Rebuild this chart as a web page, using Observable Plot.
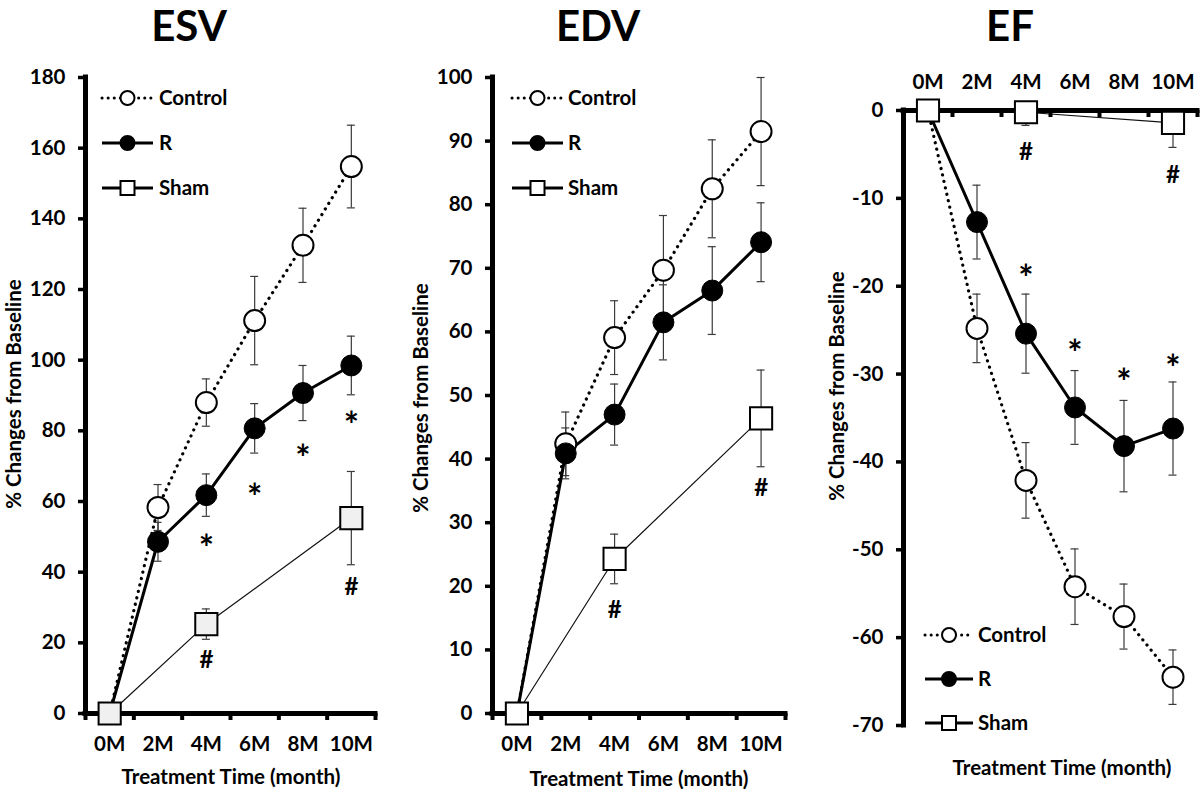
<!DOCTYPE html>
<html><head><meta charset="utf-8">
<script src="https://cdn.jsdelivr.net/npm/d3@7"></script>
<script src="https://cdn.jsdelivr.net/npm/@observablehq/plot@0.6"></script>
<style>
body{margin:0;background:#fff;}
#root{position:relative;width:1200px;height:795px;overflow:hidden;font-family:Lato,"Open Sans",sans-serif;font-weight:700;color:#000;}
.panel{position:absolute;top:0;width:400px;height:795px;}
.title{position:absolute;font-size:42px;font-weight:700;transform:translateX(-50%);top:0px;line-height:1.2;white-space:nowrap;}
.xlab{position:absolute;font-size:20.5px;font-weight:700;transform:translate(-50%,-50%);white-space:nowrap;}
.ylab{position:absolute;font-size:20.5px;font-weight:700;transform:translate(-50%,-50%) rotate(-90deg);white-space:nowrap;}
svg.legend{position:absolute;left:0;top:0;pointer-events:none;}
</style></head><body><div id="root"></div>
<script>
// ---------- data ----------
const months = [0, 2, 4, 6, 8, 10];
const monthLabels = ["0M", "2M", "4M", "6M", "8M", "10M"];
const shamMonths = [0, 4, 10];
const seriesNames = ["Control", "R", "Sham"];

const esvTicks = [0, 20, 40, 60, 80, 100, 120, 140, 160, 180];
const esvControl = [0, 58.3, 88.0, 111.2, 132.5, 154.8];
const esvControlErr = [0, 6.5, 6.7, 12.5, 10.5, 11.7];
const esvR = [0, 48.6, 61.8, 80.7, 90.7, 98.5];
const esvRErr = [0, 5.5, 6.0, 7.0, 7.8, 8.3];
const esvSham = [0, 25.3, 55.3];
const esvShamErr = [0, 4.3, 13.2];
const esvStarMonths = [4, 6, 8, 10];
const esvStarValues = [49.5, 64, 75, 84.3];
const esvHashMonths = [4, 10];
const esvHashValues = [15, 35.7];

const edvTicks = [0, 10, 20, 30, 40, 50, 60, 70, 80, 90, 100];
const edvControl = [0, 42.4, 59.1, 69.7, 82.5, 91.5];
const edvControlErr = [0, 5.0, 5.8, 8.6, 7.7, 8.5];
const edvR = [0, 40.9, 47.0, 61.5, 66.5, 74.1];
const edvRErr = [0, 4.0, 4.8, 5.9, 6.9, 6.2];
const edvSham = [0, 24.3, 46.4];
const edvShamErr = [0, 3.9, 7.6];
const edvStarMonths = [];
const edvStarValues = [];
const edvHashMonths = [4, 10];
const edvHashValues = [16.3, 35.4];

const efTicks = [0, -10, -20, -30, -40, -50, -60, -70];
const efControl = [0, -24.8, -42.1, -54.2, -57.6, -64.5];
const efControlErr = [0, 3.9, 4.3, 4.3, 3.7, 3.1];
const efR = [0, -12.7, -25.4, -33.8, -38.2, -36.2];
const efRErr = [0, 4.2, 4.5, 4.2, 5.2, 5.3];
const efSham = [0, -0.2, -1.4];
const efShamErr = [0, 1.5, 2.8];
const efStarMonths = [4, 6, 8, 10];
const efStarValues = [-18, -26.5, -29.8, -28.2];
const efHashMonths = [4, 10];
const efHashValues = [-4.8, -7.4];

// ---------- layout ----------
const FONT = "Lato, 'Open Sans', sans-serif";
const TICKFS = 20.5;
const panels = [
  {title: "ESV", left: 0, mL: 85, mR: 25, mT: 77, mB: 82, domain: [0, 180], ticks: esvTicks,
   control: esvControl, controlErr: esvControlErr, r: esvR, rErr: esvRErr, sham: esvSham, shamErr: esvShamErr,
   shamFill: "#f0f0f0", shamDown: false, xTop: false,
   starM: esvStarMonths, starV: esvStarValues, hashM: esvHashMonths, hashV: esvHashValues,
   titleX: 189, yLab: [13, 394], xLab: [231, 776],
   legend: {x0: 102, x1: 153, tx: 159, rows: [98, 143, 188]}},
  {title: "EDV", left: 400, mL: 92, mR: 15, mT: 77, mB: 82, domain: [0, 100], ticks: edvTicks,
   control: edvControl, controlErr: edvControlErr, r: edvR, rErr: edvRErr, sham: edvSham, shamErr: edvShamErr,
   shamFill: "#ffffff", shamDown: false, xTop: false,
   starM: edvStarMonths, starV: edvStarValues, hashM: edvHashMonths, hashV: edvHashValues,
   titleX: 598, yLab: [420, 398], xLab: [639, 778],
   legend: {x0: 512, x1: 563, tx: 568, rows: [98, 143, 188]}},
  {title: "EF", left: 800, mL: 103, mR: 3, mT: 110, mB: 70, domain: [-70, 0], ticks: efTicks,
   control: efControl, controlErr: efControlErr, r: efR, rErr: efRErr, sham: efSham, shamErr: efShamErr,
   shamFill: "#ffffff", shamDown: true, xTop: true,
   starM: efStarMonths, starV: efStarValues, hashM: efHashMonths, hashV: efHashValues,
   titleX: 1010, yLab: [836, 386], xLab: [1062, 767],
   legend: {x0: 925, x1: 973, tx: 978, rows: [635, 679, 723]}}
];

const root = document.getElementById("root");
const xDomain = [d3.min(months) - 1, d3.max(months) + 1];
const bandEdges = d3.range(xDomain[0], xDomain[1] + 1, 2);

function series(xs, vs, es, down) {
  return xs.map((m, i) => ({m, v: vs[i], lo: vs[i] - es[i], hi: down ? vs[i] : vs[i] + es[i], e: es[i]}));
}

for (const p of panels) {
  const ctrl = series(months, p.control, p.controlErr, false);
  const rr = series(months, p.r, p.rErr, false);
  const sh = series(shamMonths, p.sham, p.shamErr, p.shamDown);
  const errs = [...ctrl, ...rr, ...sh].filter(d => d.e > 0);
  const caps = errs.flatMap(d => d.hi === d.v ? [{m: d.m, y: d.lo}] : [{m: d.m, y: d.lo}, {m: d.m, y: d.hi}]);
  const stars = p.starM.map((m, i) => ({m, v: p.starV[i]}));
  const hashes = p.hashM.map((m, i) => ({m, v: p.hashV[i]}));
  const labels = months.map((m, i) => ({m, t: monthLabels[i]}));
  const yMin = p.domain[0], yMax = p.domain[1];

  const chart = Plot.plot({
    width: 400, height: 795,
    marginLeft: p.mL, marginRight: p.mR, marginTop: p.mT, marginBottom: p.mB,
    style: {fontFamily: FONT, fontWeight: 700, background: "transparent", overflow: "visible"},
    x: {domain: xDomain, axis: null},
    y: {domain: p.domain, axis: null},
    marks: [
      // y axis ticks & labels
      Plot.axisY({ticks: p.ticks, tickSize: 7, tickPadding: 13, tickFormat: d => String(d),
        fontSize: TICKFS, fontWeight: 700, fontFamily: FONT, strokeWidth: 3.5, anchor: "left"}),
      // error bars
      Plot.ruleX(errs, {x: "m", y1: "lo", y2: "hi", stroke: "#3a3a3a", strokeWidth: 1.2}),
      Plot.ruleY(caps, {y: "y", x1: "m", x2: "m", insetLeft: -4, insetRight: -4, stroke: "#3a3a3a", strokeWidth: 1.2}),
      // lines
      Plot.line(sh, {x: "m", y: "v", stroke: "#111", strokeWidth: 1.2}),
      Plot.line(ctrl, {x: "m", y: "v", stroke: "#000", strokeWidth: 3.2, strokeDasharray: "0.1 6.5", strokeLinecap: "round"}),
      Plot.line(rr, {x: "m", y: "v", stroke: "#000", strokeWidth: 3}),
      // axes lines
      Plot.ruleX([xDomain[0]], {y1: yMin, y2: yMax, strokeWidth: 5, stroke: "#000", strokeLinecap: "square"}),
      Plot.ruleY([0], {x1: xDomain[0], x2: xDomain[1], strokeWidth: 5, stroke: "#000", strokeLinecap: "square"}),
      Plot.ruleX(bandEdges, {y1: 0, y2: 0, insetBottom: -7, strokeWidth: 4, stroke: "#000"}),
      // x tick labels
      Plot.text(labels, {x: "m", y: () => 0, text: "t", dy: p.xTop ? -28 : 31, fontSize: TICKFS, fontWeight: 700, fontFamily: FONT}),
      // markers
      Plot.dot(ctrl, {x: "m", y: "v", r: 10.5, fill: "#fff", stroke: "#000", strokeWidth: 2}),
      Plot.dot(rr, {x: "m", y: "v", r: 10.5, fill: "#000", stroke: "#000", strokeWidth: 1}),
      Plot.dot(sh, {x: "m", y: "v", symbol: "square", r: 12.5, fill: p.shamFill, stroke: "#000", strokeWidth: 2}),
      // significance marks
      Plot.text(stars, {x: "m", y: "v", text: () => "*", fontSize: 36, fontWeight: 700, fontFamily: FONT, dy: 11}),
      Plot.text(hashes, {x: "m", y: "v", text: () => "#", fontSize: 24, fontWeight: 700, fontFamily: FONT})
    ]
  });
  chart.classList.add("panel");
  chart.style.left = p.left + "px";
  chart.style.position = "absolute";
  chart.style.top = "0px";
  root.appendChild(chart);

  const t = document.createElement("div");
  t.className = "title"; t.textContent = p.title; t.style.left = p.titleX + "px";
  root.appendChild(t);
  const yl = document.createElement("div");
  yl.className = "ylab"; yl.textContent = "% Changes from Baseline";
  yl.style.left = p.yLab[0] + "px"; yl.style.top = p.yLab[1] + "px";
  root.appendChild(yl);
  const xl = document.createElement("div");
  xl.className = "xlab"; xl.textContent = "Treatment Time (month)";
  xl.style.left = p.xLab[0] + "px"; xl.style.top = p.xLab[1] + "px";
  root.appendChild(xl);
}

// ---------- legends ----------
const lsvg = d3.select(root).append("svg").attr("class", "legend").attr("width", 1200).attr("height", 795);
const legendStyles = {
  Control: {dash: "0.1 6", marker: "circle", fill: "#fff"},
  R: {dash: null, marker: "circle", fill: "#000"},
  Sham: {dash: null, marker: "square", fill: "#fff"}
};
for (const p of panels) {
  const L = p.legend;
  seriesNames.forEach((name, i) => {
    const s = legendStyles[name];
    const y = L.rows[i];
    const mx = (L.x0 + L.x1) / 2;
    const g = lsvg.append("g");
    g.append("line").attr("x1", L.x0).attr("x2", L.x1).attr("y1", y).attr("y2", y)
      .attr("stroke", "#000").attr("stroke-width", 3)
      .attr("stroke-linecap", s.dash ? "round" : "butt")
      .attr("stroke-dasharray", s.dash);
    if (s.marker === "circle") {
      g.append("circle").attr("cx", mx).attr("cy", y).attr("r", 7)
        .attr("fill", s.fill).attr("stroke", "#000").attr("stroke-width", 2);
    } else {
      g.append("rect").attr("x", mx - 7).attr("y", y - 7).attr("width", 14).attr("height", 14)
        .attr("fill", s.fill).attr("stroke", "#000").attr("stroke-width", 2);
    }
    g.append("text").attr("x", L.tx).attr("y", y).attr("dy", "0.35em")
      .attr("font-family", FONT).attr("font-weight", 700).attr("font-size", 20.5).text(name);
  });
}
</script></body></html>
